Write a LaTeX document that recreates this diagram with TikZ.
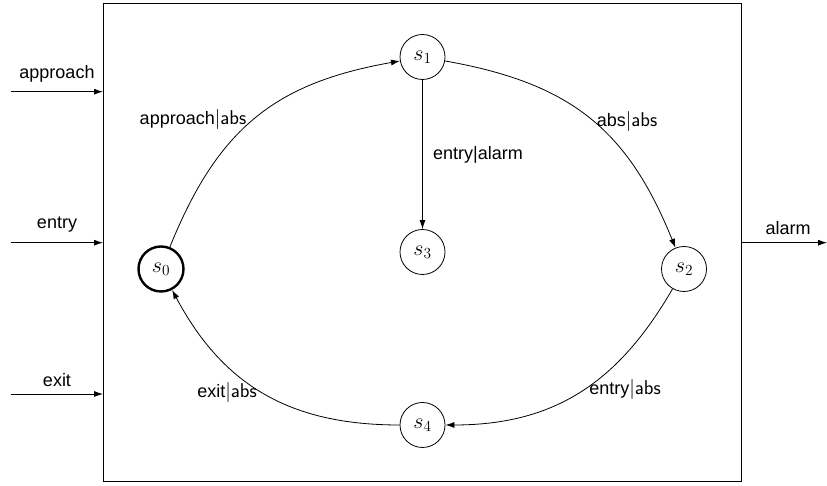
\RequirePackage{fix-cm}
\documentclass[tikz,border=0pt]{standalone}
\usepackage{fontspec}
\setmainfont{Liberation Sans}
\usetikzlibrary{arrows.meta}
\newcommand{\mylab}[2]{#1{\sffamily\fontsize{20}{22}\selectfont |#2}}
\begin{document}
\begin{tikzpicture}[x=1pt,y=1pt,
  tip/.style={-{Latex[length=9pt,width=6pt]}},
  state/.style={draw,circle,minimum size=45pt,inner sep=0pt,line width=0.8pt,font=\fontsize{22}{24}\selectfont},
  init/.style={state,line width=2.4pt},
  conn/.style={tip,line width=0.8pt},
  lbl/.style={font=\fontsize{18}{20}\selectfont,inner sep=1pt}]
\useasboundingbox (0,0) rectangle (827,486);
\node[draw,line width=1.1pt,minimum width=638pt,minimum height=478pt,inner sep=0pt,anchor=south west] (box) at (103,4) {};
% states
\node[init]  (s0) at (161,217) {$s_0$};
\node[state] (s1) at (422.5,429) {$s_1$};
\node[state] (s3) at (422.5,234) {$s_3$};
\node[state] (s2) at (684,217) {$s_2$};
\node[state] (s4) at (422.5,61) {$s_4$};
% inputs / outputs
\coordinate (ia) at (11,394.3);
\coordinate (ie) at (11,243.3);
\coordinate (ix) at (11,92);
\coordinate (oa) at (827,243.3);
\draw[conn] (ia) -- (ia -| box.west);
\draw[conn] (ie) -- (ie -| box.west);
\draw[conn] (ix) -- (ix -| box.west);
\draw[conn] (oa -| box.east) -- (oa);
\node[lbl] (la) at (57,412) {approach};
\node[lbl] (le) at (57,261) {entry};
\node[lbl] (lx) at (57,106) {exit};
\node[lbl] (lo) at (788,258) {alarm};
% transitions
\draw[conn] (s0) to[out=68,in=190,looseness=1.1] (s1);
\draw[conn] (s1) to[out=-10,in=112,looseness=1.1] (s2);
\draw[conn] (s1) -- (s3);
\draw[conn] (s2) to[out=-120,in=0,looseness=1.05] (s4);
\draw[conn] (s4) to[out=180,in=-62,looseness=1.05] (s0);
\node[lbl] (t01) at (193,366) {\mylab{approach}{abs}};
\node[lbl] (t12) at (627,364) {\mylab{abs}{abs}};
\node[lbl] (t13) at (478,331) {entry|alarm};
\node[lbl] (t40) at (227,93) {\mylab{exit}{abs}};
\node[lbl] (t24) at (625,96) {\mylab{entry}{abs}};
\end{tikzpicture}
\end{document}
